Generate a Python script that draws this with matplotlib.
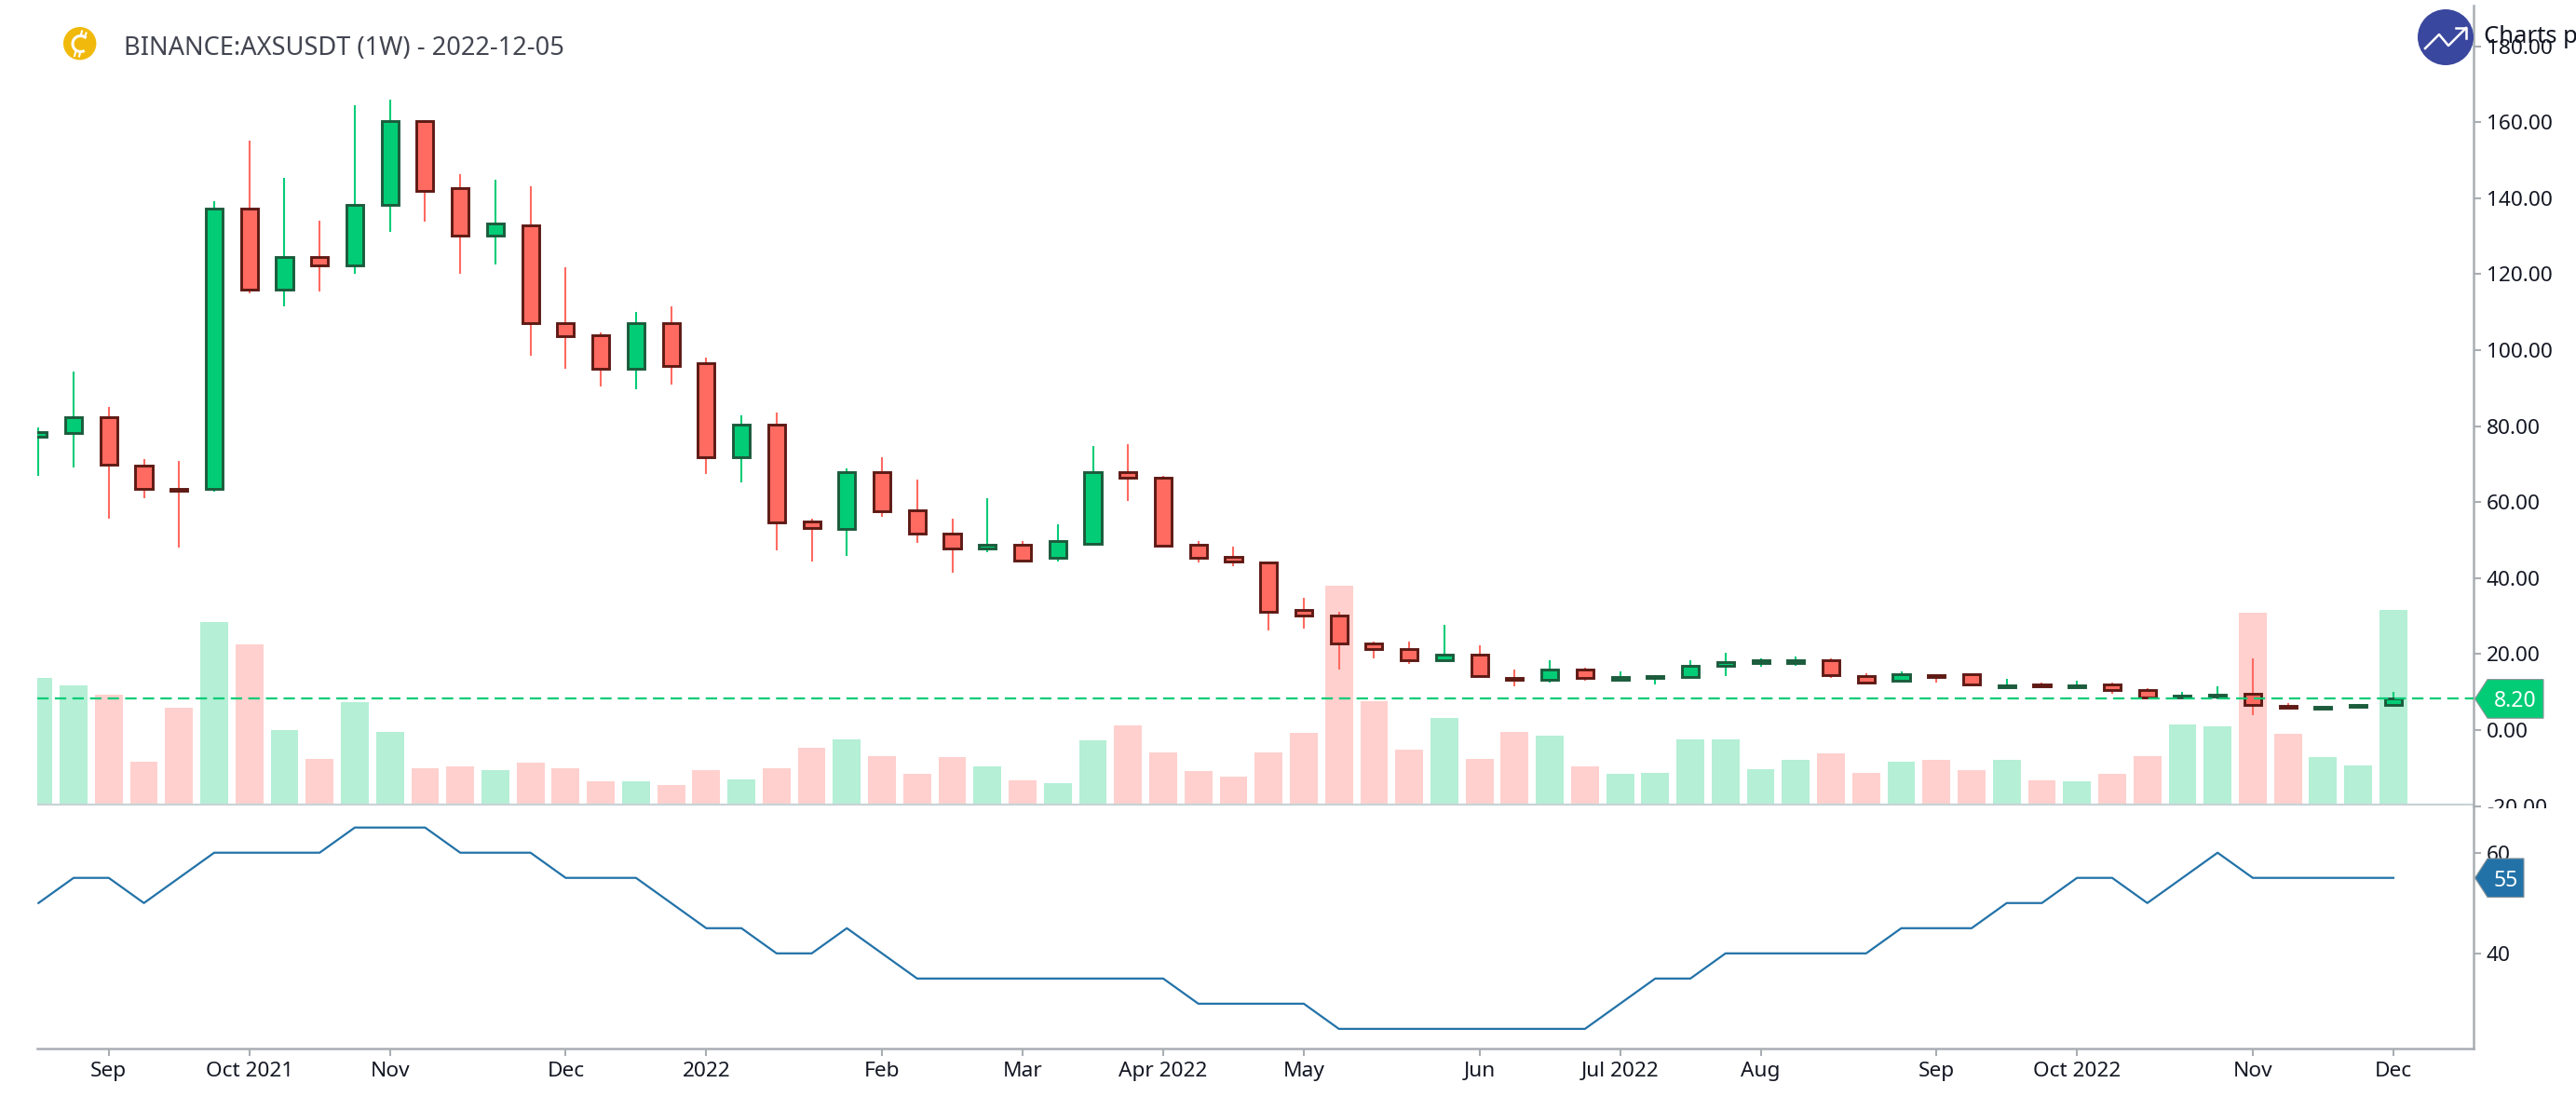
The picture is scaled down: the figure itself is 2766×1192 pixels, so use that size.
import matplotlib
matplotlib.use("Agg")
import matplotlib.pyplot as plt
from matplotlib.patches import Circle, Polygon, Arc
from matplotlib.lines import Line2D
from matplotlib.transforms import Bbox, IdentityTransform

plt.rcParams['font.family'] = ['Noto Sans', 'DejaVu Sans']

open_ = [77.1,78.2,82.3,69.6,63.5,63.4,137.2,115.9,124.4,122.4,138.1,160.2,142.6,130.2,132.8,107.2,103.8,95.0,107.2,96.5,
         71.8,80.3,54.8,53.0,67.9,57.7,51.7,47.7,48.7,45.3,49.1,67.9,66.5,48.7,45.5,44.0,31.5,30.1,22.8,21.3,
         18.3,19.9,13.7,13.3,15.9,13.3,13.8,13.9,16.9,17.7,17.7,18.4,14.1,12.9,14.5,14.6,11.2,12.1,11.2,12.1,
         10.5,8.6,8.8,9.6,6.4,5.6,6.0,6.7]
close = [78.5,82.3,69.8,63.5,63.0,137.2,115.9,124.4,122.3,138.2,160.2,142.0,130.2,133.2,107.1,103.7,95.0,107.2,95.9,71.8,
         80.3,54.6,53.1,67.9,57.5,51.6,47.7,48.7,44.7,49.8,67.9,66.3,48.6,45.3,44.3,31.0,30.1,22.7,21.2,18.3,
         19.9,14.3,13.1,15.9,13.8,13.9,14.3,16.9,17.9,18.3,18.4,14.4,12.5,14.6,13.9,12.1,11.8,11.5,11.8,10.5,
         8.6,9.1,9.4,6.6,5.8,6.1,6.6,8.2]
high = [79.7,94.4,85.1,71.4,70.8,139.1,155.2,145.4,134.1,164.5,166.0,160.6,146.4,144.9,143.0,121.9,104.7,110.1,111.6,97.9,
        82.7,83.6,55.7,68.8,71.7,65.9,55.7,61.0,49.7,54.1,74.7,75.2,66.9,49.7,48.3,44.3,34.9,31.1,23.2,23.2,
        27.6,22.3,15.9,18.4,16.4,15.4,14.5,18.4,20.4,18.9,19.3,18.9,15.0,15.5,14.5,15.0,13.4,12.5,13.0,12.5,
        11.0,10.0,11.5,18.9,7.0,6.3,6.9,10.1]
low = [67.0,69.0,55.7,61.1,47.9,62.7,115.0,111.6,115.5,120.0,131.2,133.7,120.0,122.5,98.5,95.0,90.5,89.6,91.0,67.4,
       65.1,47.3,44.4,45.8,56.2,49.2,41.4,46.9,44.7,44.4,48.8,60.2,48.6,44.0,43.0,26.2,26.8,16.0,18.9,17.4,
       18.0,14.3,11.5,12.5,12.9,13.3,12.0,13.9,14.1,16.6,17.0,13.6,12.5,12.6,12.5,12.1,11.2,11.4,11.2,9.6,
       8.6,8.4,8.0,3.8,5.6,5.3,5.7,6.7]
volume = [136,128,118,46,104,196,172,80.5,49,110,78.5,39,41,37,45,39,25,25,21,37,27,39,61,70.5,52.5,32.6,50.6,40.6,26.4,22.6,
          68.6,84.7,56.3,36.4,30.3,56.3,76.6,234.9,110.7,58.6,92.7,48.7,78.5,74.3,40.6,32.6,34.5,70.5,70.5,38.4,48.5,54.7,34.4,46.4,
          48.5,36.6,48.5,26.5,24.7,32.6,52.5,86.5,84.5,206.5,76.4,50.7,42.4,208.7]
score = [50,55,55,50,55,60,60,60,60,65,65,65,60,60,60,55,55,55,50,45,45,40,40,45,40,35,35,35,35,35,35,35,35,30,30,30,30,25,25,25,
         25,25,25,25,25,30,35,35,40,40,40,40,40,45,45,45,50,50,55,55,50,55,60,55,55,55,55,55]
tick_idx = [2,6,10,15,19,24,28,32,36,41,45,49,54,58,63,67]
tick_lab = ['Sep','Oct 2021','Nov','Dec','2022','Feb','Mar','Apr 2022','May','Jun','Jul 2022','Aug','Sep','Oct 2022','Nov','Dec']
price_ticks = [-20,0,20,40,60,80,100,120,140,160,180]
score_ticks = [40,60]
title = 'BINANCE:AXSUSDT (1W) - 2022-12-05'

W, H = 2766, 1192
GREEN, RED = '#03CC76', '#FF6A61'
GREEN_E, RED_E = '#1C5B3C', '#5E1A14'
VG, VR = '#B4EFD6', '#FFD0CE'
AXC = '#A9AEB4'
TXT = '#131722'
FS = 16.3

fig = plt.figure(figsize=(W/100, H/100), dpi=100, facecolor='white')
def pos(l, t, r, b):
    return [l/W, 1-b/H, (r-l)/W, (b-t)/H]

L, R = 40, 2656
TOP, SPLIT, BOT = 6, 865.5, 1126
PX_PER_PRICE = 4.08
xlim = ((L-41.3)/37.74, (R-41.3)/37.74)
x = list(range(len(close)))

# volume pane (hidden scale, one unit = one pixel of height)
axv = fig.add_axes(pos(L, TOP, R, SPLIT), zorder=1)
axv.set_xlim(xlim); axv.set_ylim(-1.5, SPLIT-TOP-1.5)
axv.axis('off')
vcol = [VG if c >= o else VR for o, c in zip(open_, close)]
axv.bar(x, volume, width=0.79, color=vcol, linewidth=0)
axv.axhline(0, color='#C8D3D6', lw=1.6)

# price pane
ax = fig.add_axes(pos(L, TOP, R, SPLIT), zorder=2)
ax.patch.set_alpha(0)
ax.set_xlim(xlim); ax.set_ylim(-20, (SPLIT-TOP)/PX_PER_PRICE-20)
for s in ('top', 'left', 'bottom'):
    ax.spines[s].set_visible(False)
ax.spines['right'].set_color(AXC); ax.spines['right'].set_linewidth(1.8)
ax.set_xticks([])
ax.yaxis.tick_right()
ax.set_yticks(price_ticks)
ax.set_yticklabels([f'{t:.2f}' for t in price_ticks])
ax.tick_params(axis='y', length=6, width=1.5, color=AXC, labelsize=FS, labelcolor=TXT, pad=4)
for i in x:
    up = close[i] >= open_[i]
    ax.vlines(i, low[i], high[i], color=GREEN if up else RED, lw=1.5, zorder=2)
    ax.bar(i, abs(close[i]-open_[i]), bottom=min(open_[i], close[i]), width=0.48,
           color=GREEN if up else RED, edgecolor=GREEN_E if up else RED_E, linewidth=2.1, zorder=3)
ax.axhline(close[-1], color=GREEN, lw=1.6, linestyle=(0, (5.5, 3)), zorder=4)

# clip the -20.00 label where the lower pane begins
for lab, t in zip(ax.get_yticklabels(), price_ticks):
    if t == -20:
        lab.set_clip_box(Bbox([[2600, H-868], [W, H-830]]))
        lab.set_clip_on(True)

# score pane
ax2 = fig.add_axes(pos(L, SPLIT, R, BOT), zorder=3)
ax2.patch.set_alpha(0)
ax2.set_xlim(xlim); ax2.set_ylim(60-(BOT-915.7)/5.405, 60+(915.7-SPLIT)/5.405)
for s in ('top', 'left'):
    ax2.spines[s].set_visible(False)
for s in ('right', 'bottom'):
    ax2.spines[s].set_color(AXC); ax2.spines[s].set_linewidth(1.8)
ax2.plot(x, score, color='#2272A8', lw=1.6, zorder=3)
ax2.yaxis.tick_right()
ax2.set_yticks(score_ticks)
ax2.set_yticklabels([str(t) for t in score_ticks])
ax2.set_xticks(tick_idx)
ax2.set_xticklabels(tick_lab)
ax2.tick_params(axis='y', length=6, width=1.5, color=AXC, labelsize=FS, labelcolor=TXT, pad=4)
ax2.tick_params(axis='x', length=6, width=1.5, color=AXC, labelsize=FS, labelcolor=TXT, pad=4)

# value tags
def tag(axis, value, right, text, color):
    y = axis.transData.transform((0, value))[1]
    pts = [(R+1.5, y), (R+15, y+20.8), (right, y+20.8), (right, y-20.8), (R+15, y-20.8)]
    fig.add_artist(Polygon(pts, closed=True, transform=IdentityTransform(), facecolor=color,
                           edgecolor='#8A9499', lw=0.8, zorder=10))
    fig.text(((R+15+right)/2)/W, y/H, text, color='white', fontsize=16.5, ha='center', va='center_baseline', zorder=11)
tag(ax, close[-1], 2731, f'{close[-1]:.2f}', GREEN)
tag(ax2, score[-1], 2710, str(score[-1]), '#2272A8')

# header
fig.text(133/W, 1-52/H, title, color='#434651', fontsize=19.6, va='center')
fig.add_artist(Circle((85.7, H-46.7), 17.7, transform=IdentityTransform(), color='#F0B90B', lw=0, zorder=10))
fig.add_artist(Arc((86.5, H-47), 17, 17, theta1=45, theta2=300, transform=IdentityTransform(), color='white', lw=2.2, zorder=11))
for xs, ys in [((88, 86.5), (33.5, 39)), ((92.5, 91), (35.5, 40)), ((80, 81.5), (60, 54.5)), ((85, 86.5), (60.5, 55))]:
    fig.add_artist(Line2D(xs, [H-ys[0], H-ys[1]], transform=IdentityTransform(), color='white', lw=1.5, zorder=11))

# badge
fig.add_artist(Circle((2626, H-40), 30, transform=IdentityTransform(), color='#3A479E', lw=0, zorder=10))
fig.add_artist(Line2D([2604, 2619, 2629, 2648], [H-52, H-37, H-49, H-30], transform=IdentityTransform(), color='white', lw=1.8, zorder=11))
fig.add_artist(Line2D([2637, 2648, 2648], [H-30, H-30, H-41], transform=IdentityTransform(), color='white', lw=1.8, zorder=11))
fig.text(2667/W, 1-40/H, 'Charts p', color=TXT, fontsize=18.5, va='center', zorder=12)

fig.savefig('out.png', dpi=100, facecolor='white')
